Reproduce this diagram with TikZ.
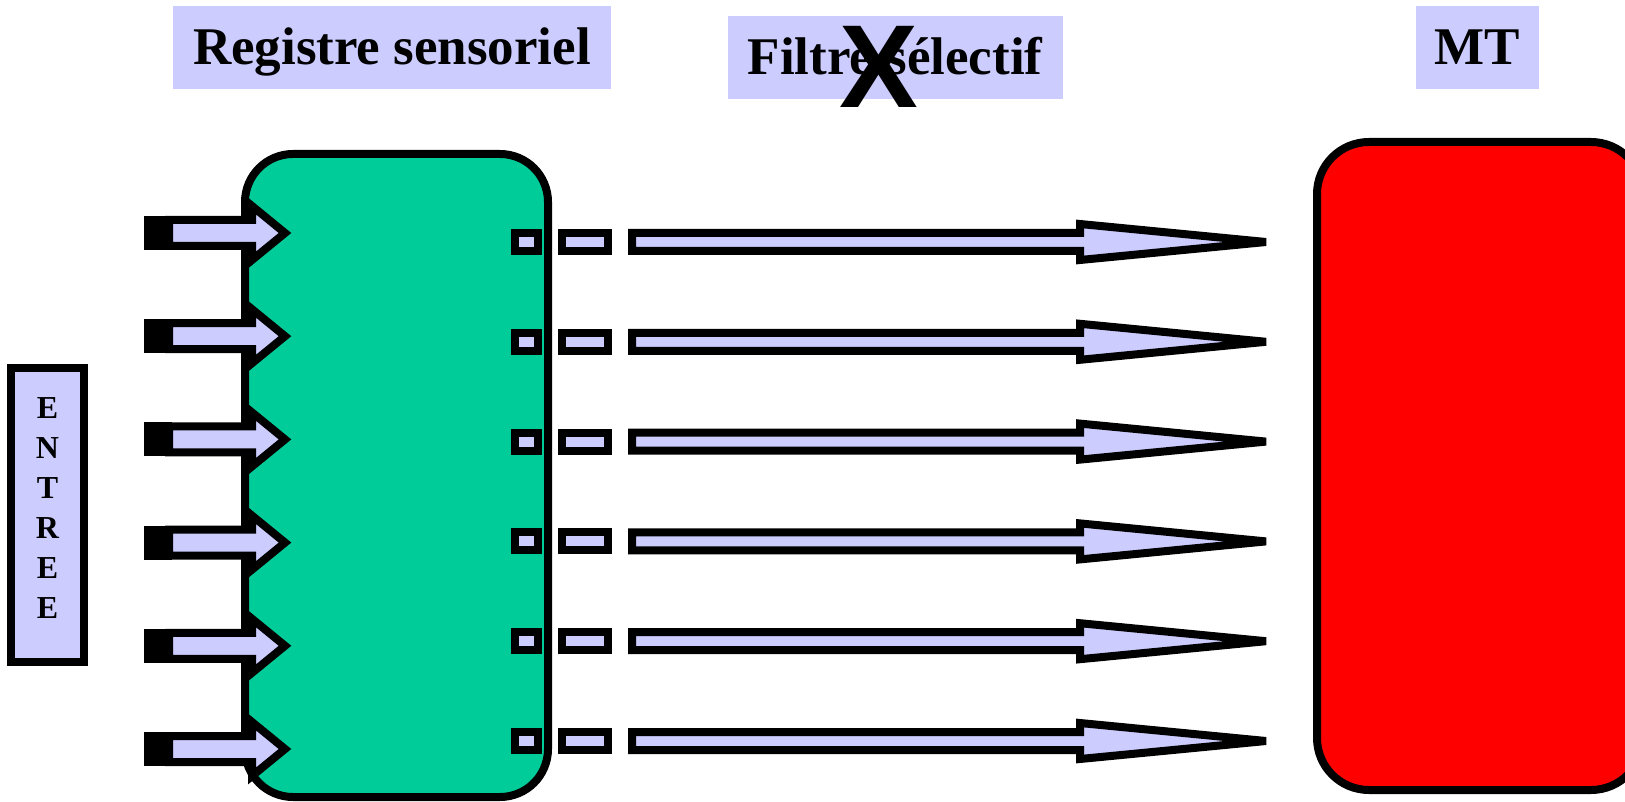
\documentclass[tikz,border=0pt]{standalone}
\usepackage{fontspec}
\setmainfont{Liberation Serif}
\newfontfamily\xfont{Liberation Sans}
\definecolor{lav}{RGB}{204,204,255}
\definecolor{regreen}{RGB}{0,204,153}
\definecolor{mtred}{RGB}{255,0,0}
\tikzset{
  thick8/.style={draw=black, line width=8pt},
  labelbox/.style={fill=lav},
  title/.style={anchor=base, inner sep=0pt, font=\bfseries\fontsize{53}{60}\selectfont},
  letter/.style={anchor=base, inner sep=0pt, font=\bfseries\fontsize{32}{34}\selectfont},
  blockarrow/.style={thick8, fill=lav, line join=miter},
}
\begin{document}
\begin{tikzpicture}[x=1pt,y=-1pt]
\useasboundingbox (0,0) rectangle (1625,802);
\clip (0,0) rectangle (1625,802);
% title boxes
\fill[labelbox] (173,6) rectangle (611,89);
\node[title] (reg) at (392,65) {Registre sensoriel};
\fill[labelbox] (728,16) rectangle (1063,99);
\node[title] (filt) at (895,75) {Filtre sélectif};
\node[anchor=base, inner sep=0pt, font=\xfont\bfseries\fontsize{118}{120}\selectfont] (cross) at (879,108) {X};
\fill[labelbox] (1416,6) rectangle (1539,89);
\node[title] (mt) at (1477.5,65) {MT};
% ENTREE
\draw[thick8, fill=lav] (11,368) rectangle (84,662);
\foreach \l [count=\i from 0] in {E,N,T,R,E,E}
  \node[letter] (ent\i) at (47.5,418+40*\i) {\l};
% boxes
\draw[thick8, fill=regreen, rounded corners=48pt] (245,154) rectangle (548,797);
\draw[thick8, fill=mtred, rounded corners=52pt] (1317,142) rectangle (1643,790);
% input arrows
\foreach \k in {0,...,5}{
  \pgfmathsetmacro{\y}{233+103.2*\k}
  \fill[black] (144,\y-17) rectangle (172,\y+17);
  \draw[blockarrow] (169,\y-13) -- (252,\y-13) -- (252,\y-27) -- (285,\y)
     -- (252,\y+27) -- (252,\y+13) -- (169,\y+13) -- cycle;
}
% output
\foreach \k in {0,...,5}{
  \pgfmathsetmacro{\y}{242+99.8*\k}
  \draw[thick8, fill=lav] (515,\y-9) rectangle (538,\y+9);
  \draw[thick8, fill=lav] (562,\y-9) rectangle (608,\y+9);
  \draw[blockarrow] (632,\y-9) -- (1080,\y-9) -- (1080,\y-18) -- (1266,\y)
     -- (1080,\y+18) -- (1080,\y+9) -- (632,\y+9) -- cycle;
}
\end{tikzpicture}
\end{document}
